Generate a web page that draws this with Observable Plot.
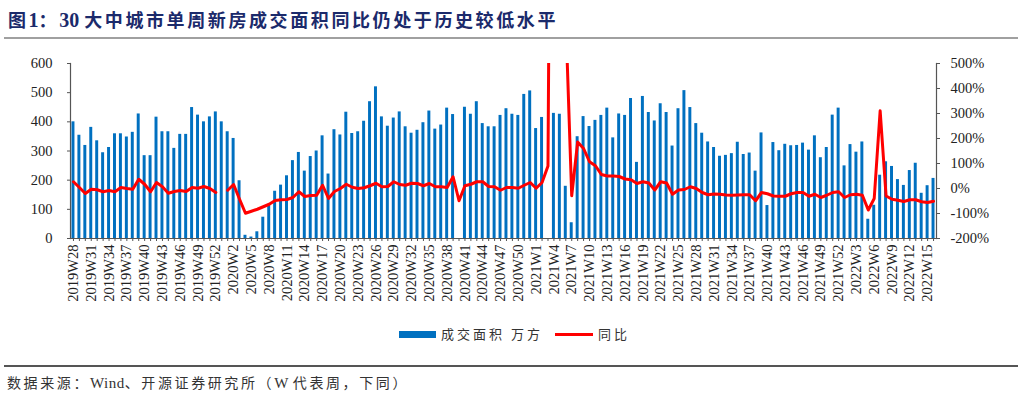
<!DOCTYPE html>
<html><head><meta charset="utf-8">
<script src="https://cdn.jsdelivr.net/npm/d3@7"></script>
<script src="https://cdn.jsdelivr.net/npm/@observablehq/plot@0.6"></script>
<style>
body{margin:0;background:#fff;}
#wrap{position:relative;width:1024px;height:397px;overflow:hidden;background:#fff;}
#title{position:absolute;left:8px;top:7px;font-family:"Noto Sans CJK SC",sans-serif;font-weight:bold;font-size:18px;letter-spacing:2.6px;color:#1b2a6b;white-space:nowrap;line-height:24px;}
#title .lat{font-family:"Liberation Serif",serif;font-size:20px;letter-spacing:0;}
#rule1{position:absolute;left:4px;width:1014px;top:37px;height:2px;background:#a0a0a0;}
#chart{position:absolute;left:0;top:50px;}
.lg{position:absolute;font-family:"Noto Sans CJK SC",sans-serif;font-size:13px;letter-spacing:3px;color:#333;white-space:nowrap;line-height:16px;}
#rule2{position:absolute;left:4px;width:1014px;top:365px;height:1.5px;background:#555;}
#src{position:absolute;left:7px;top:373px;font-family:"Noto Sans CJK SC",sans-serif;font-size:14px;letter-spacing:2.6px;color:#333;white-space:nowrap;line-height:18px;}
#src .lat{font-family:"Liberation Serif",serif;font-size:15px;letter-spacing:0.5px;}
</style>
</head><body>
<div id="wrap">
  <div id="title">图<span class="lat">1</span>：<span class="lat">30 </span>大中城市单周新房成交面积同比仍处于历史较低水平</div>
  <div id="rule1"></div>
  <div id="chart"></div>
  <div class="lg" style="left:399px;top:331px;width:37px;height:7px;background:#0070c0;"></div>
  <div class="lg" style="left:441px;top:326px;">成交面积 万方</div>
  <div class="lg" style="left:555px;top:333px;width:38px;height:3px;background:#ff0000;"></div>
  <div class="lg" style="left:598px;top:326px;">同比</div>
  <div id="rule2"></div>
  <div id="src">数据来源：<span class="lat">Wind</span>、开源证券研究所（<span class="lat">W </span>代表周，下同）</div>
</div>
<script>
// Week categories
const weeks = [
"2019W28","2019W29","2019W30","2019W31","2019W32","2019W33","2019W34","2019W35","2019W36","2019W37",
"2019W38","2019W39","2019W40","2019W41","2019W42","2019W43","2019W44","2019W45","2019W46","2019W47",
"2019W48","2019W49","2019W50","2019W51","2019W52","2019W53",
"2020W1","2020W2","2020W3","2020W4","2020W5","2020W6","2020W7","2020W8","2020W9","2020W10",
"2020W11","2020W12","2020W13","2020W14","2020W15","2020W16","2020W17","2020W18","2020W19","2020W20",
"2020W21","2020W22","2020W23","2020W24","2020W25","2020W26","2020W27","2020W28","2020W29","2020W30",
"2020W31","2020W32","2020W33","2020W34","2020W35","2020W36","2020W37","2020W38","2020W39","2020W40",
"2020W41","2020W42","2020W43","2020W44","2020W45","2020W46","2020W47","2020W48","2020W49","2020W50",
"2020W51","2020W52",
"2021W1","2021W2","2021W3","2021W4","2021W5","2021W6","2021W7","2021W8","2021W9","2021W10",
"2021W11","2021W12","2021W13","2021W14","2021W15","2021W16","2021W17","2021W18","2021W19","2021W20",
"2021W21","2021W22","2021W23","2021W24","2021W25","2021W26","2021W27","2021W28","2021W29","2021W30",
"2021W31","2021W32","2021W33","2021W34","2021W35","2021W36","2021W37","2021W38","2021W39","2021W40",
"2021W41","2021W42","2021W43","2021W44","2021W45","2021W46","2021W47","2021W48","2021W49","2021W50",
"2021W51","2021W52",
"2022W1","2022W2","2022W3","2022W4","2022W5","2022W6","2022W7","2022W8","2022W9","2022W10",
"2022W11","2022W12","2022W13","2022W14","2022W15","2022W16"
];
// 成交面积 (万方)
const area = [
400,354,319,381,335,294,312,359,359,348,364,427,284,284,416,366,366,309,357,357,449,423,400,417,434,
400,366,343,
198,11,5,23,73,117,162,183,215,267,295,231,281,300,352,221,373,355,433,360,
366,402,469,520,417,385,413,434,383,361,371,397,437,375,389,447,425,
null,
450,426,469,394,383,383,422,445,426,422,494,506,377,415,
null,
429,426,179,54,349,418,384,405,422,447,345,427,422,480,261,487,432,
403,462,432,317,445,507,449,394,361,331,312,282,285,291,330,288,293,231,362,113,
329,301,323,318,319,327,303,352,277,312,423,447,249,322,296,331,66,114,217,263,
247,202,182,233,258,155,181,206
];
// 同比 (%)
const yoy = [
27,4,-20,-3,-5,-13,-8,-13,4,0,-3,37,17,-13,24,7,-19,-12,-8,-12,4,1,8,0,-16,
null,
-7,16,-43,-99,-91,-83,-73,-63,-48,-45,-44,-36,-13,-32,-28,-27,13,-40,-12,0,17,5,
0,3,11,21,7,8,27,16,13,21,20,11,20,7,7,4,47,-49,11,17,27,27,8,7,-7,4,4,1,13,24,1,24,
90,3800,8400,680,-29,
186,160,107,91,56,50,50,48,38,35,20,27,22,
-6,27,22,-23,-6,-4,7,0,-16,-25,-22,-23,-26,-27,-26,-25,-25,-49,-16,-21,
-30,-31,-31,-21,-16,-16,-31,-23,-36,-27,-16,-13,-36,-25,-23,-27,-86,-40,311,-30,
-43,-47,-52,-45,-45,-53,-56,-51
];
const leftTicks = [0,100,200,300,400,500,600];
const rightTicks = [-200,-100,0,100,200,300,400,500];

// map percent axis [-200,500] onto left axis [0,600]
const toLeft = p => p == null ? null : (p + 200) * 600 / 700;
const rows = weeks.map((w, i) => ({week: w, area: area[i], yoyL: toLeft(yoy[i])}));
const labelSet = new Set(weeks.filter((w, i) => i % 3 === 0));

const chart = Plot.plot({
  width: 1024,
  height: 270,
  marginLeft: 70,
  marginRight: 88,
  marginTop: 13,
  marginBottom: 82,
  style: {fontFamily: "'Liberation Serif', serif", fontSize: "14.5px", color: "#333", background: "transparent"},
  x: {type: "band", domain: weeks, paddingInner: 0.5, paddingOuter: 0.25, label: null},
  y: {domain: [0, 600], label: null},
  marks: [
    Plot.barY(rows.filter(d => d.area != null), {x: "week", y: "area", fill: "#0070c0"}),
    Plot.line(rows, {x: "week", y: "yoyL", stroke: "#ff0000", strokeWidth: 3, strokeLinejoin: "round", clip: true}),
    Plot.ruleY([0], {stroke: "#555", strokeWidth: 1.2}),
    Plot.frame({anchor: "left", stroke: "#555", strokeWidth: 1.2}),
    Plot.frame({anchor: "right", stroke: "#555", strokeWidth: 1.2}),
    Plot.axisY(leftTicks, {anchor: "left", tickSize: 3, tickPadding: 15, stroke: "#555", fill: "#222", label: null}),
    Plot.axisY(rightTicks.map(toLeft), {anchor: "right", tickSize: 3, tickPadding: 11, stroke: "#555", fill: "#222",
      tickFormat: v => Math.round(v * 700 / 600 - 200) + "%", label: null}),
    Plot.axisX({anchor: "bottom", tickSize: 3, tickPadding: 3, tickRotate: -90, stroke: "#555", fill: "#222",
      tickFormat: w => labelSet.has(w) ? w : "", label: null})
  ]
});
document.getElementById("chart").appendChild(chart);
</script>
</body></html>
